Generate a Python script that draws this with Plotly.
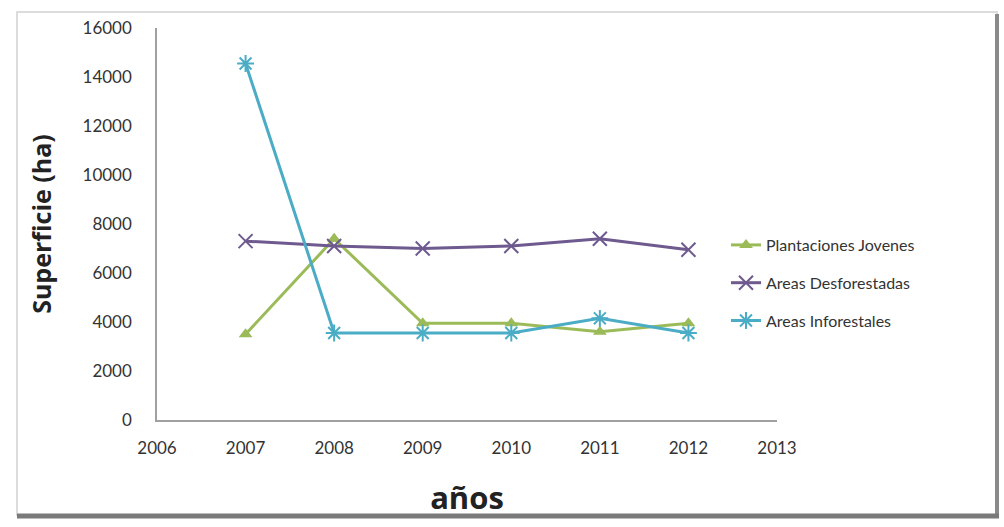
import plotly.graph_objects as go

years = [2007, 2008, 2009, 2010, 2011, 2012]
plantaciones = [3500, 7400, 3950, 3950, 3600, 3950]
desforestadas = [7300, 7100, 7000, 7100, 7400, 6950]
inforestales = [14550, 3550, 3550, 3550, 4150, 3550]
x_ticks = [2006, 2007, 2008, 2009, 2010, 2011, 2012, 2013]
y_ticks = [0, 2000, 4000, 6000, 8000, 10000, 12000, 14000, 16000]

W, H = 1004, 527
L, R, T, B = 157, 777, 28, 420

fig = go.Figure()
fig.add_trace(go.Scatter(x=years, y=plantaciones, name="Plantaciones Jovenes", mode="lines+markers",
                         legendgroup="a",
                         line=dict(color="#9BBB59", width=3),
                         marker=dict(symbol="triangle-up", size=12, color="#9BBB59")))
fig.add_trace(go.Scatter(x=years, y=desforestadas, name="Areas Desforestadas", mode="lines+markers",
                         legendgroup="b",
                         line=dict(color="#6E5A8E", width=3),
                         marker=dict(symbol="x-thin-open", size=14, line=dict(color="#9C8CB8", width=2))))
fig.add_trace(go.Scatter(x=years, y=inforestales, name="Areas Inforestales", mode="lines+markers",
                         legendgroup="c",
                         line=dict(color="#4BACC6", width=3),
                         marker=dict(symbol="asterisk-open", size=14, line=dict(color="#7FD0E2", width=2))))

def px(x):
    return (x - L) / (R - L)

def py(y):
    return (B - y) / (B - T)

fig.add_shape(type="rect", xref="paper", yref="paper",
              x0=px(17), x1=px(997), y0=py(515), y1=py(12),
              line=dict(color="#dcdcdc", width=2), fillcolor="rgba(0,0,0,0)", layer="below")
fig.add_shape(type="line", xref="paper", yref="paper", x0=px(997), x1=px(997), y0=py(515), y1=py(14),
              line=dict(color="#8a8a8a", width=4))
fig.add_shape(type="line", xref="paper", yref="paper", x0=px(17), x1=px(999), y0=py(516), y1=py(516),
              line=dict(color="#7a7a7a", width=5))

font_family = "Lato, Arial, sans-serif"

fig.update_layout(
    width=W, height=H,
    margin=dict(l=L, r=W - R, t=T, b=H - B),
    paper_bgcolor="white", plot_bgcolor="white",
    font=dict(family=font_family, color="#333333", size=17),
    showlegend=True,
    legend=dict(x=px(726), y=py(228), xanchor="left", yanchor="top",
                bgcolor="rgba(0,0,0,0)", font=dict(size=16, color="#333333"),
                tracegroupgap=14, itemwidth=30),
    xaxis=dict(range=[2006, 2013], tickvals=x_ticks, ticktext=[str(v) for v in x_ticks],
               showgrid=False, zeroline=False, showline=True, linecolor="#a0a0a0", linewidth=1.5,
               ticks="", ticklabelstandoff=12,
               title=dict(text="<b>años</b>", font=dict(family="Open Sans, sans-serif", size=31, color="#222222"),
                          standoff=30)),
    yaxis=dict(range=[0, 16000], tickvals=y_ticks, ticktext=[str(v) for v in y_ticks],
               showgrid=False, zeroline=False, showline=True, linecolor="#a0a0a0", linewidth=1.5,
               ticks="", ticklabelstandoff=20,
               title=dict(text="<b>Superficie (ha)</b>", font=dict(family="Open Sans, sans-serif", size=25, color="#222222"),
                          standoff=24)),
)

fig.write_html("out.html")
